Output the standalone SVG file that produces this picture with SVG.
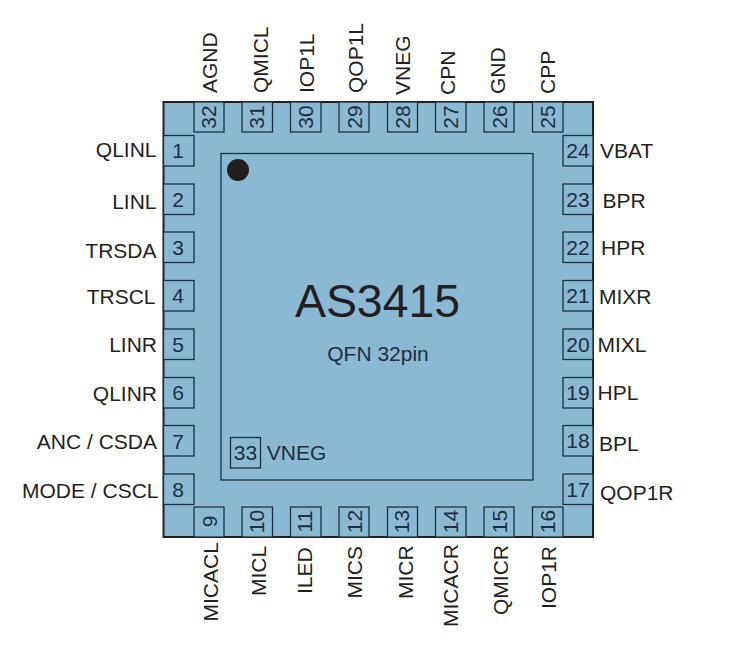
<svg xmlns="http://www.w3.org/2000/svg" width="732" height="651" viewBox="0 0 732 651">
<style>
text{font-family:"Liberation Sans",Arial,sans-serif;fill:#231f20;font-size:21px}
.e{text-anchor:end}
.p{fill:#8bb9d4;stroke:#1c3040;stroke-width:1.300}
.n{text-anchor:middle;fill:#1c2f42}
</style>
<rect width="732" height="651" fill="#fff"/>
<g id="chip">
<rect x="163.500" y="102" width="429.500" height="435" fill="#8bb9d4" stroke="#231f20" stroke-width="2"/>
<rect x="221" y="153.500" width="312" height="326.500" fill="#8bb9d4" stroke="#1c3040" stroke-width="1.300"/>
<circle cx="238" cy="170" r="11" fill="#231f20"/>
<text x="377.500" y="316.500" text-anchor="middle" style="font-size:46.400px">AS3415</text>
<text class="n" x="378" y="360.500">QFN 32pin</text>
</g>
<g id="pin1"><rect class="p" x="163.500" y="135.500" width="30.500" height="30.500"/><text class="n" x="178" y="158">1</text><text class="e" x="156.500" y="157">QLINL</text></g>
<g id="pin2"><rect class="p" x="163.500" y="184" width="30.500" height="30.500"/><text class="n" x="178" y="207">2</text><text class="e" x="156.500" y="209">LINL</text></g>
<g id="pin3"><rect class="p" x="163.500" y="232" width="30.500" height="30.500"/><text class="n" x="178" y="255">3</text><text class="e" x="156.500" y="258">TRSDA</text></g>
<g id="pin4"><rect class="p" x="163.500" y="280.500" width="30.500" height="30.500"/><text class="n" x="178" y="303">4</text><text class="e" x="155.500" y="304">TRSCL</text></g>
<g id="pin5"><rect class="p" x="163.500" y="329" width="30.500" height="30.500"/><text class="n" x="178" y="351.500">5</text><text class="e" x="157" y="352">LINR</text></g>
<g id="pin6"><rect class="p" x="163.500" y="377.500" width="30.500" height="30.500"/><text class="n" x="178" y="400">6</text><text class="e" x="157" y="401">QLINR</text></g>
<g id="pin7"><rect class="p" x="163.500" y="425.500" width="30.500" height="30.500"/><text class="n" x="178" y="448.500">7</text><text class="e" x="157" y="449">ANC / CSDA</text></g>
<g id="pin8"><rect class="p" x="163.500" y="474" width="30.500" height="30.500"/><text class="n" x="178" y="496.500">8</text><text class="e" x="158.500" y="498">MODE / CSCL</text></g>
<g id="pin9"><rect class="p" x="194" y="507" width="30" height="30"/><text class="n" transform="translate(216.500 521.500) rotate(-90)">9</text><text transform="translate(218 621.500) rotate(-90)">MICACL</text></g>
<g id="pin10"><rect class="p" x="242" y="507" width="30.500" height="30"/><text class="n" transform="translate(264 521.500) rotate(-90)">10</text><text transform="translate(265.500 596) rotate(-90)">MICL</text></g>
<g id="pin11"><rect class="p" x="290.500" y="507" width="30.500" height="30"/><text class="n" transform="translate(312 521.500) rotate(-90)">11</text><text transform="translate(312 594) rotate(-90)">ILED</text></g>
<g id="pin12"><rect class="p" x="339" y="507" width="30" height="30"/><text class="n" transform="translate(361.500 521.500) rotate(-90)">12</text><text transform="translate(362 598.500) rotate(-90)">MICS</text></g>
<g id="pin13"><rect class="p" x="387.500" y="507" width="30" height="30"/><text class="n" transform="translate(409 521.500) rotate(-90)">13</text><text transform="translate(413 599) rotate(-90)">MICR</text></g>
<g id="pin14"><rect class="p" x="435.500" y="507" width="30.500" height="30"/><text class="n" transform="translate(457.500 521.500) rotate(-90)">14</text><text transform="translate(457.500 627) rotate(-90)">MICACR</text></g>
<g id="pin15"><rect class="p" x="484" y="507" width="30" height="30"/><text class="n" transform="translate(506.500 521.500) rotate(-90)">15</text><text transform="translate(508 615) rotate(-90)">QMICR</text></g>
<g id="pin16"><rect class="p" x="532.500" y="507" width="30.500" height="30"/><text class="n" transform="translate(555 521.500) rotate(-90)">16</text><text transform="translate(555.500 609) rotate(-90)">IOP1R</text></g>
<g id="pin17"><rect class="p" x="563" y="474" width="30" height="30.500"/><text class="n" x="578" y="496.500">17</text><text x="600" y="500">QOP1R</text></g>
<g id="pin18"><rect class="p" x="563" y="425.500" width="30" height="30.500"/><text class="n" x="578" y="448">18</text><text x="599" y="450.500">BPL</text></g>
<g id="pin19"><rect class="p" x="563" y="377.500" width="30" height="30.500"/><text class="n" x="578" y="400">19</text><text x="597.500" y="400">HPL</text></g>
<g id="pin20"><rect class="p" x="563" y="329" width="30" height="30.500"/><text class="n" x="578" y="351.500">20</text><text x="597.500" y="352">MIXL</text></g>
<g id="pin21"><rect class="p" x="563" y="280.500" width="30" height="30.500"/><text class="n" x="578" y="303">21</text><text x="599" y="304">MIXR</text></g>
<g id="pin22"><rect class="p" x="563" y="232" width="30" height="30.500"/><text class="n" x="578" y="255">22</text><text x="601" y="254.500">HPR</text></g>
<g id="pin23"><rect class="p" x="563" y="184" width="30" height="30.500"/><text class="n" x="578" y="207">23</text><text x="602.500" y="207.500">BPR</text></g>
<g id="pin24"><rect class="p" x="563" y="135.500" width="30" height="30.500"/><text class="n" x="578" y="158">24</text><text x="600" y="158">VBAT</text></g>
<g id="pin25"><rect class="p" x="532.500" y="102" width="30.500" height="30"/><text class="n" transform="translate(555 117) rotate(-90)">25</text><text transform="translate(555 94) rotate(-90)">CPP</text></g>
<g id="pin26"><rect class="p" x="484" y="102" width="30" height="30"/><text class="n" transform="translate(506.500 117) rotate(-90)">26</text><text transform="translate(504.500 94) rotate(-90)">GND</text></g>
<g id="pin27"><rect class="p" x="435.500" y="102" width="30.500" height="30"/><text class="n" transform="translate(458 117) rotate(-90)">27</text><text transform="translate(455 95) rotate(-90)">CPN</text></g>
<g id="pin28"><rect class="p" x="387.500" y="102" width="30" height="30"/><text class="n" transform="translate(409.500 117) rotate(-90)">28</text><text transform="translate(409.500 95) rotate(-90)">VNEG</text></g>
<g id="pin29"><rect class="p" x="339" y="102" width="30" height="30"/><text class="n" transform="translate(361.500 117) rotate(-90)">29</text><text transform="translate(362.500 93) rotate(-90)">QOP1L</text></g>
<g id="pin30"><rect class="p" x="290.500" y="102" width="30.500" height="30"/><text class="n" transform="translate(312.500 117) rotate(-90)">30</text><text transform="translate(314 93) rotate(-90)">IOP1L</text></g>
<g id="pin31"><rect class="p" x="242" y="102" width="30.500" height="30"/><text class="n" transform="translate(264 117) rotate(-90)">31</text><text transform="translate(268 93) rotate(-90)">QMICL</text></g>
<g id="pin32"><rect class="p" x="194" y="102" width="30" height="30"/><text class="n" transform="translate(215.500 117) rotate(-90)">32</text><text transform="translate(217 93) rotate(-90)">AGND</text></g>
<g id="pin33"><rect class="p" x="230.500" y="437.500" width="30" height="30.500"/><text class="n" x="245.500" y="460">33</text><text class="n" x="296.500" y="460">VNEG</text></g>
<g id="connectors"/>
</svg>
